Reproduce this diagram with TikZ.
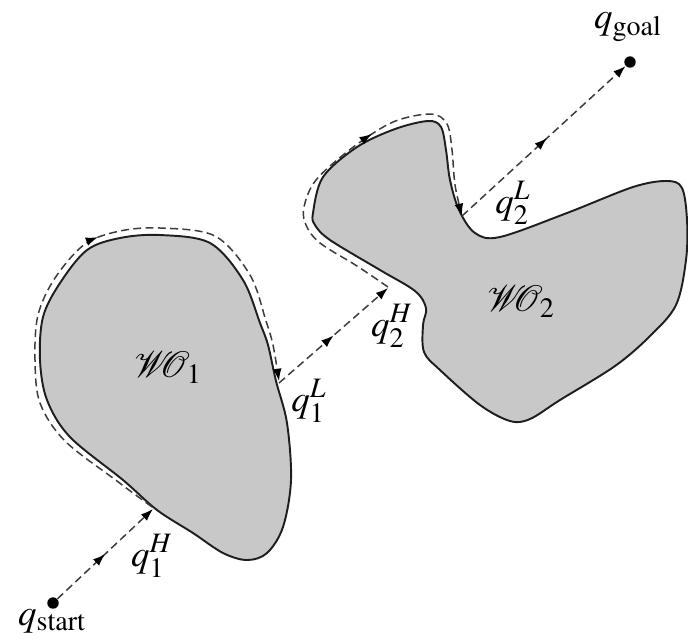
\documentclass[tikz,border=0pt]{standalone}
\usepackage{mathptmx}
\DeclareMathSizes{21}{21}{16}{13}
\usetikzlibrary{arrows.meta,decorations.markings}
\definecolor{obsfill}{RGB}{200,200,200}
\definecolor{obsline}{RGB}{30,30,30}
\definecolor{pathgray}{RGB}{60,60,60}
\newcommand{\wocal}[1]{\mathcal{W}\mkern-7mu\mathcal{O}_{#1}}
\begin{document}
\begin{tikzpicture}[x=0.02cm,y=-0.02cm,
  obstacle/.style={fill=obsfill,draw=obsline,line width=1.1pt},
  route/.style={draw=pathgray,line width=0.85pt,dash pattern=on 4.5pt off 2.5pt},
  tipend/.style={-{Latex[length=7pt,width=5pt,color=black]}},
  midarrow/.style={postaction={decorate},decoration={markings,mark=at position #1 with {\arrow[black]{Latex[length=7pt,width=5pt]}}}},
  dot/.style={circle,fill=black,inner sep=0pt,minimum size=6.5pt},
  lbl/.style={inner sep=0pt,font=\fontsize{21}{24}\selectfont}]
\useasboundingbox (0,0) rectangle (688,637);
% obstacles
\path[obstacle] plot[smooth cycle,tension=0.55] coordinates {(157,510) (123,480) (70,437) (47,400) (40,360) (43,317) (60,283) (87,250) (120,238) (160,235) (210,243) (243,280) (260,323) (268,345) (276,381) (287,423) (291,480) (283,527) (267,553) (247,560) (223,553) (193,533)};
\path[obstacle] plot[smooth cycle,tension=0.55] coordinates {(313,213) (323,177) (357,147) (395,129) (428,121) (441,127) (446,150) (450,180) (459,210) (475,233) (500,237) (567,213) (633,187) (667,181) (682,188) (687,220) (686,260) (676,305) (650,336) (615,366) (560,400) (530,419) (510,421) (480,405) (440,370) (424,352) (423,325) (426,308) (415,291) (380,270) (330,240) (315,225)};
% key points
\node[dot] (qs) at (53,603) {};
\node[dot] (qg) at (630,62) {};
\coordinate (h1) at (153,509);
\coordinate (l1) at (279,383);
\coordinate (h2) at (388,288);
\coordinate (l2) at (462,216);
% boundary following
\draw[route,tipend,midarrow=0.55] plot[smooth,tension=0.55] coordinates {(152,507) (117,481) (65,441) (40,403) (35,360) (38,315) (55,278) (85,244) (120,231) (160,228) (215,236) (250,275) (266,321) (273,345) (279,381)};
\draw[route,tipend,midarrow=0.56] plot[smooth,tension=0.55] coordinates {(388,287) (357,266) (320,243) (306,225) (304,207) (316,180) (352,148) (393,122) (431,114) (447,124) (452,150) (455,185) (462,216)};
% straight segments
\draw[route,tipend,midarrow=0.5] (qs) -- (h1);
\draw[route,tipend,midarrow=0.5] (l1) -- (h2);
\draw[route,tipend,midarrow=0.52] (l2) -- (qg);
% labels
\node[lbl] (Ls) at (52,621) {$q_{\mathrm{start}}$};
\node[lbl] (Lg) at (628,27) {$q_{\mathrm{goal}}$};
\node[lbl] (Lh1) at (152,556) {$q_1^H$};
\node[lbl] (Ll1) at (309,401) {$q_1^L$};
\node[lbl] (Lh2) at (392,326) {$q_2^H$};
\node[lbl] (Ll2) at (513,203) {$q_2^L$};
\node[lbl] (W1) at (168,368) {$\wocal{1}$};
\node[lbl] (W2) at (521,302) {$\wocal{2}$};
\end{tikzpicture}
\end{document}
